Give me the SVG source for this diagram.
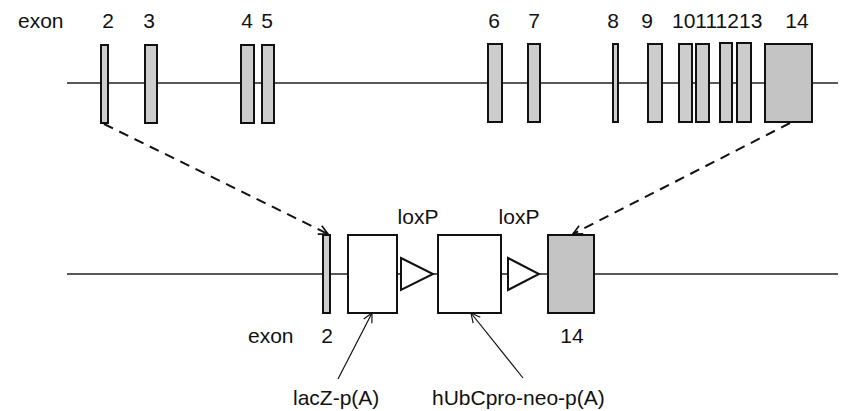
<svg xmlns="http://www.w3.org/2000/svg" width="844" height="411" viewBox="0 0 844 411">
<defs>
<style>
text{font-family:"Liberation Sans",Arial,sans-serif;font-size:21px;fill:#111}
.bb{stroke:#111;stroke-width:2}
.ex{fill:#cdcdcd}
.ex14{fill:#c4c4c4}
.wh{fill:#fff}
.ln{stroke:#222;stroke-width:1.4;fill:none}
.dash{stroke:#111;stroke-width:2;stroke-dasharray:10 7;fill:none}
.thin{stroke:#111;stroke-width:1.2;fill:none}
.c{text-anchor:middle}
</style>
<marker id="ah" viewBox="0 0 12 12" refX="11" refY="6" markerWidth="11" markerHeight="11" markerUnits="userSpaceOnUse" orient="auto">
<path d="M1,1 L11,6 L1,11" fill="none" stroke="#111" stroke-width="1.8"/>
</marker>
<marker id="ah2" viewBox="0 0 12 12" refX="11" refY="6" markerWidth="11" markerHeight="11" markerUnits="userSpaceOnUse" orient="auto">
<path d="M1,1 L11,6 L1,11" fill="none" stroke="#111" stroke-width="1.3"/>
</marker>
</defs>
<rect width="844" height="411" fill="#fff"/>
<g id="top-gene">
<line class="ln" x1="67" y1="83" x2="838" y2="83"/>
<text x="18" y="28">exon</text>
<g id="exon2"><rect class="ex bb" x="101" y="45" width="7" height="78"/><text class="c" x="108" y="28">2</text></g>
<g id="exon3"><rect class="ex bb" x="145" y="45" width="12" height="78"/><text class="c" x="149" y="28">3</text></g>
<g id="exon4"><rect class="ex bb" x="241" y="45" width="13" height="78"/><text class="c" x="247" y="28">4</text></g>
<g id="exon5"><rect class="ex bb" x="262" y="45" width="12" height="78"/><text class="c" x="267" y="28">5</text></g>
<g id="exon6"><rect class="ex bb" x="488" y="44" width="14" height="78"/><text class="c" x="494" y="28">6</text></g>
<g id="exon7"><rect class="ex bb" x="528" y="44" width="12" height="78"/><text class="c" x="534" y="28">7</text></g>
<g id="exon8"><rect class="ex bb" x="613" y="44" width="5" height="78"/><text class="c" x="613" y="28">8</text></g>
<g id="exon9"><rect class="ex bb" x="648" y="44" width="14" height="78"/><text class="c" x="647" y="28">9</text></g>
<g id="exon10-13">
<rect class="ex bb" x="679" y="44" width="13" height="78"/>
<rect class="ex bb" x="696" y="44" width="13" height="78"/>
<rect class="ex bb" x="720" y="43" width="12" height="79"/>
<rect class="ex bb" x="737" y="43" width="14" height="79"/>
<text x="672" y="28">10111213</text>
</g>
<g id="exon14"><rect class="ex14 bb" x="765" y="44" width="47" height="78"/><text class="c" x="797" y="28">14</text></g>
</g>
<g id="connectors">
<line class="dash" x1="104" y1="124" x2="328" y2="234" marker-end="url(#ah)"/>
<line class="dash" x1="790" y1="123" x2="573" y2="234" marker-end="url(#ah)"/>
<line class="thin" x1="338" y1="379" x2="372" y2="313" marker-end="url(#ah2)"/>
<line class="thin" x1="523" y1="378" x2="471" y2="313" marker-end="url(#ah2)"/>
</g>
<g id="bottom-gene">
<line class="ln" x1="67" y1="274" x2="838" y2="274"/>
<g id="b-exon2"><rect class="ex bb" x="323" y="235" width="7" height="78"/><text class="c" x="327" y="343">2</text></g>
<text x="248" y="343">exon</text>
<g id="lacZ"><rect class="wh bb" x="348" y="235" width="49" height="78"/><text x="293" y="405">lacZ-p(A)</text></g>
<g id="loxP1"><path class="wh bb" d="M401,258 L433,274 L401,290 Z"/><text class="c" x="418" y="224">loxP</text></g>
<g id="neo"><rect class="wh bb" x="438" y="235" width="63" height="78"/><text x="432" y="405">hUbCpro-neo-p(A)</text></g>
<g id="loxP2"><path class="wh bb" d="M508,258 L539,274 L508,290 Z"/><text class="c" x="519" y="224">loxP</text></g>
<g id="b-exon14"><rect class="ex14 bb" x="548" y="235" width="46" height="78"/><text class="c" x="572" y="343">14</text></g>
</g>
</svg>
